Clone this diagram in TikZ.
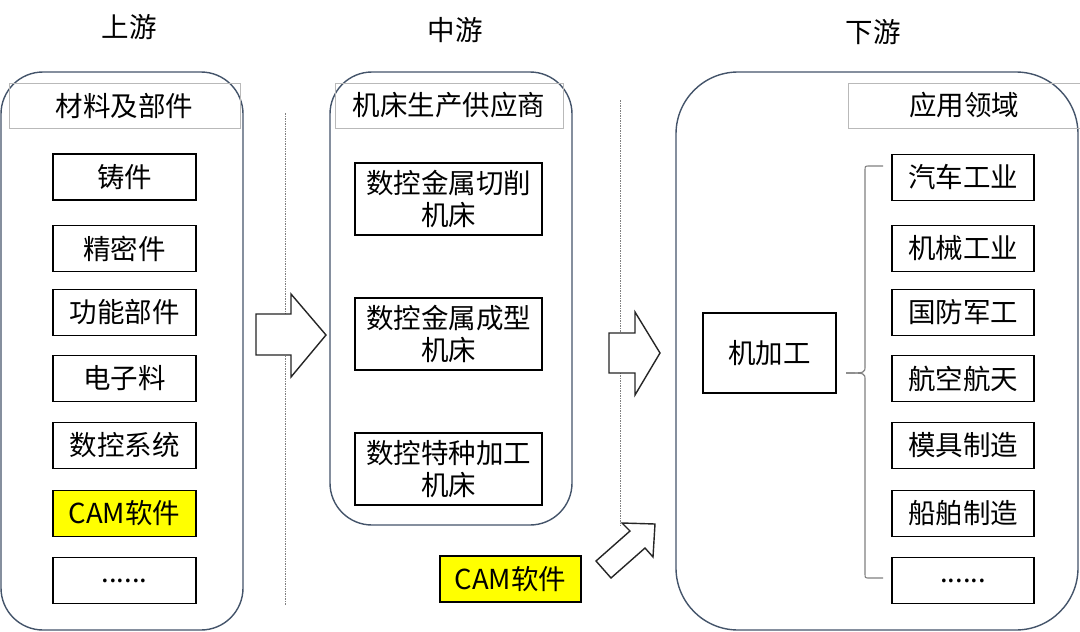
\documentclass[tikz,border=0pt]{standalone}
\usepackage{fontspec}
\setmainfont{Noto Sans CJK SC}
\begin{document}
\begin{tikzpicture}[x=1pt,y=-1pt,
  txt/.style={font=\fontsize{27.5}{32}\selectfont, inner sep=0pt},
  panel/.style={draw=panelc, line width=1.4pt, rounded corners=#1},
  titlebox/.style={draw=gray!55, line width=0.9pt, inner sep=0pt, font=\fontsize{27.5}{32}\selectfont},
  item/.style={draw=black, line width=1.4pt, inner sep=0pt, font=\fontsize{27.5}{32}\selectfont, align=center},
  blockarrow/.style={draw=black!85, line width=1.4pt, fill=white, line join=miter},
  sep/.style={draw=gray, line width=0.7pt, dash pattern=on 2pt off 1.2pt on 0.6pt off 1.2pt},
  bracec/.style={draw=gray, line width=1.1pt}
]
\definecolor{panelc}{HTML}{44546A}
\definecolor{camyellow}{HTML}{FFFF00}
\useasboundingbox (0,0) rectangle (1080,632);
\fill[white] (0,0) rectangle (1080,632);

% headings
\node[txt] (h1) at (129,27) {上游};
\node[txt] (h2) at (455,30) {中游};
\node[txt] (h3) at (873,32) {下游};

% panels
\draw[panel=42] (1,72) rectangle (243,630);
\draw[panel=42] (330,72) rectangle (572,525);
\draw[panel=62] (676,72) rectangle (1078,630);

% separators
\coordinate (s1a) at (285,113); \coordinate (s1b) at (285,605);
\coordinate (s2a) at (620,100); \coordinate (s2b) at (620,526);
\draw[sep] (s1a) -- (s1b);
\draw[sep] (s2a) -- (s2b);

% title boxes
\node[titlebox, minimum width=231, minimum height=45] (t1) at (124.5,105.5) {材料及部件};
\node[titlebox, minimum width=228, minimum height=45] (t2) at (449,105.5) {机床生产供应商};
\node[titlebox, minimum width=232, minimum height=45] (t3) at (964,105.5) {应用领域};

% left column items
\foreach \n/\y/\t in {a1/177/铸件, a2/248.5/精密件, a3/312.5/功能部件, a4/378.5/电子料, a5/445.5/数控系统}{
  \node[item, minimum width=143, minimum height=46] (\n) at (124.5,\y) {\t};
}
\node[item, fill=camyellow, minimum width=143, minimum height=46] (a6) at (124.5,513.5) {CAM软件};
\node[item, minimum width=143, minimum height=46] (a7) at (124.5,580.5) {......};

% middle items
\node[item, minimum width=187, minimum height=72] (b1) at (448.5,199) {数控金属切削\\机床};
\node[item, minimum width=187, minimum height=72] (b2) at (448.5,334) {数控金属成型\\机床};
\node[item, minimum width=187, minimum height=72] (b3) at (448.5,469) {数控特种加工\\机床};

\node[item, fill=camyellow, minimum width=141, minimum height=46] (cam) at (510.5,579) {CAM软件};

% right items
\node[item, minimum width=133, minimum height=80] (mach) at (769.5,353) {机加工};
\foreach \n/\y/\t in {c1/177.5/汽车工业, c2/248.5/机械工业, c3/312.5/国防军工, c4/378.5/航空航天, c5/445.5/模具制造, c6/513.5/船舶制造}{
  \node[item, minimum width=142, minimum height=46] (\n) at (963,\y) {\t};
}
\node[item, minimum width=142, minimum height=46] (c7) at (963,580.5) {......};

% block arrows
\draw[blockarrow] (256,314) -- (291,314) -- (291,294) -- (326,335) -- (291,377) -- (291,355) -- (256,355) -- cycle;
\draw[blockarrow] (609,333) -- (635,333) -- (635,312) -- (660,353) -- (635,395) -- (635,373) -- (609,373) -- cycle;
\draw[blockarrow] (596,561) -- (630,531) -- (622,523) -- (655,524) -- (653,557) -- (645,548) -- (611,578) -- cycle;

% brace
\coordinate (bt) at (883,166);
\coordinate (bb) at (883,578);
\coordinate (btip) at (846,373);
\draw[bracec] (bt) -- (869,166) .. controls (865,166) .. (865,171) -- (865,366) .. controls (865,373) .. (btip);
\draw[bracec] (btip) .. controls (865,373) .. (865,380) -- (865,573) .. controls (865,578) .. (869,578) -- (bb);
\end{tikzpicture}
\end{document}
